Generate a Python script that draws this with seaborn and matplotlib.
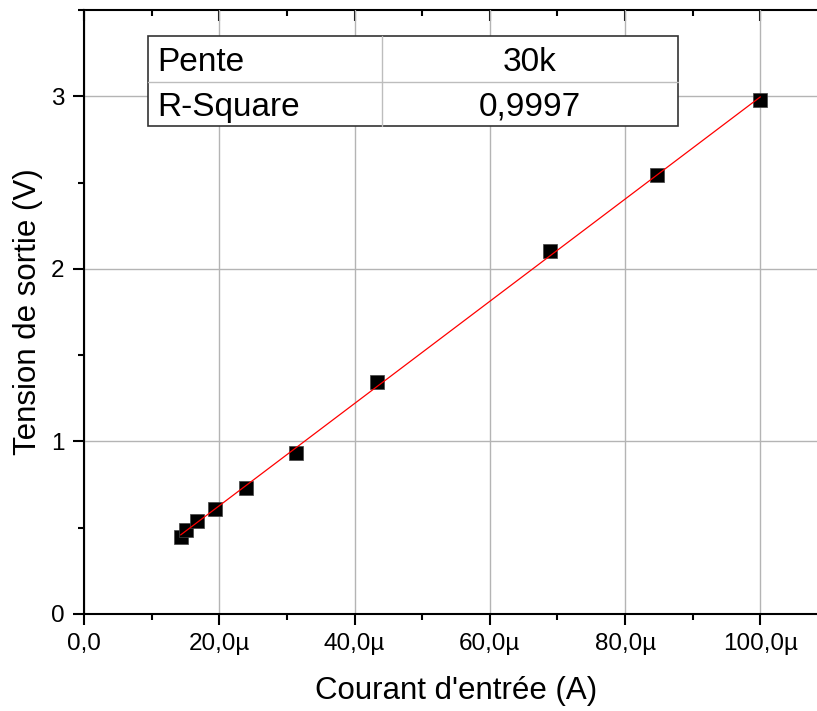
import numpy as np
import pandas as pd
import matplotlib
matplotlib.use("Agg")
import matplotlib.pyplot as plt
from matplotlib.ticker import FixedLocator, FixedFormatter, MultipleLocator
from matplotlib.patches import Rectangle
import seaborn as sns

# Measured input current (A) and output voltage (V)
courant = [14.29e-6, 15.07e-6, 16.70e-6, 19.36e-6, 23.94e-6,
           31.28e-6, 43.30e-6, 68.97e-6, 84.72e-6, 100.0e-6]
tension = [0.448, 0.487, 0.541, 0.611, 0.733,
           0.932, 1.342, 2.102, 2.542, 2.981]

x_ticks = [0.0, 20e-6, 40e-6, 60e-6, 80e-6, 100e-6]
x_tick_labels = ["0,0", "20,0µ", "40,0µ", "60,0µ", "80,0µ", "100,0µ"]
y_ticks = [0, 1, 2, 3]
y_tick_labels = ["0", "1", "2", "3"]

table_names = ["Pente", "R-Square"]
table_values = ["30k", "0,9997"]

sns.set_theme(style="white")
plt.rcParams["font.family"] = ["Liberation Sans", "DejaVu Sans"]
plt.rcParams["text.color"] = "black"
plt.rcParams["axes.labelcolor"] = "black"
plt.rcParams["xtick.color"] = "black"
plt.rcParams["ytick.color"] = "black"

df = pd.DataFrame({"courant": courant, "tension": tension})

# Linear fit
slope, intercept = np.polyfit(df["courant"], df["tension"], 1)
x_fit = np.array([df["courant"].min(), df["courant"].max()])
fit = pd.DataFrame({"courant": x_fit, "tension": slope * x_fit + intercept})

fig = plt.figure(figsize=(8.17, 7.11), dpi=100)
W, H = 817, 711
ax = fig.add_axes([84 / W, (H - 614) / H, (828 - 84) / W, (614 - 10) / H])

sns.scatterplot(data=df, x="courant", y="tension", marker="s", s=90,
                color="black", edgecolor="#444444", linewidth=0.5,
                ax=ax, zorder=3)
sns.lineplot(data=fit, x="courant", y="tension", color="red",
             linewidth=0.9, ax=ax, zorder=4)

ax.set_xlim(0, 110e-6)
ax.set_ylim(0, 3.5)

ax.xaxis.set_major_locator(FixedLocator(x_ticks))
ax.xaxis.set_major_formatter(FixedFormatter(x_tick_labels))
ax.xaxis.set_minor_locator(MultipleLocator(10e-6))
ax.yaxis.set_major_locator(FixedLocator(y_ticks))
ax.yaxis.set_major_formatter(FixedFormatter(y_tick_labels))
ax.yaxis.set_minor_locator(MultipleLocator(0.5))

ax.grid(True, which="major", color="#b4b4b4", linewidth=1.0)
ax.set_axisbelow(True)

for side in ["left", "bottom"]:
    ax.spines[side].set_linewidth(1.5)
    ax.spines[side].set_color("black")
ax.spines["right"].set_visible(False)
ax.spines["top"].set_visible(False)

ax.tick_params(which="major", direction="out", length=8, width=1.5,
               labelsize=17.5, color="black", labelcolor="black", pad=6,
               bottom=True, left=True)
ax.tick_params(which="minor", direction="out", length=4, width=1.5,
               color="black", bottom=True, left=True)

# Top axis with inward ticks
top = ax.secondary_xaxis("top")
top.xaxis.set_major_locator(FixedLocator(x_ticks))
top.xaxis.set_minor_locator(MultipleLocator(10e-6))
top.tick_params(which="major", direction="in", length=8, width=1.5,
                labeltop=False, color="black")
top.tick_params(which="minor", direction="in", length=4, width=1.5,
                color="black")
top.spines["top"].set_linewidth(1.5)
top.spines["top"].set_color("black")

ax.set_xlabel("Courant d'entrée (A)", fontsize=22.5, labelpad=15,
              color="black")
ax.set_ylabel("Tension de sortie (V)", fontsize=22.5, labelpad=6,
              color="black")

# Fit results table
def px_x(p):
    return (p - 84) / (828 - 84)

def px_y(p):
    return (614 - p) / (614 - 10)

t_left, t_right, t_top, t_bot, t_mid, t_col = 148, 678, 36, 126, 82, 382
tr = ax.transAxes
ax.add_patch(Rectangle((px_x(t_left), px_y(t_bot)),
                       px_x(t_right) - px_x(t_left), px_y(t_top) - px_y(t_bot),
                       transform=tr, facecolor="white", edgecolor="#333333",
                       linewidth=1.2, zorder=5))
ax.plot([px_x(t_left), px_x(t_right)], [px_y(t_mid)] * 2, transform=tr,
        color="#bdbdbd", linewidth=1.0, zorder=6)
ax.plot([px_x(t_col)] * 2, [px_y(t_bot), px_y(t_top)], transform=tr,
        color="#bdbdbd", linewidth=1.0, zorder=6)
rows_y = [(t_top + t_mid) / 2, (t_mid + t_bot) / 2]
for name, val, ry in zip(table_names, table_values, rows_y):
    ax.text(px_x(157), px_y(ry), name, transform=tr, fontsize=24,
            ha="left", va="center_baseline", zorder=7, color="black")
    ax.text(px_x((t_col + t_right) / 2), px_y(ry), val, transform=tr,
            fontsize=24, ha="center", va="center_baseline", zorder=7,
            color="black")

fig.savefig("out.png", dpi=100)
